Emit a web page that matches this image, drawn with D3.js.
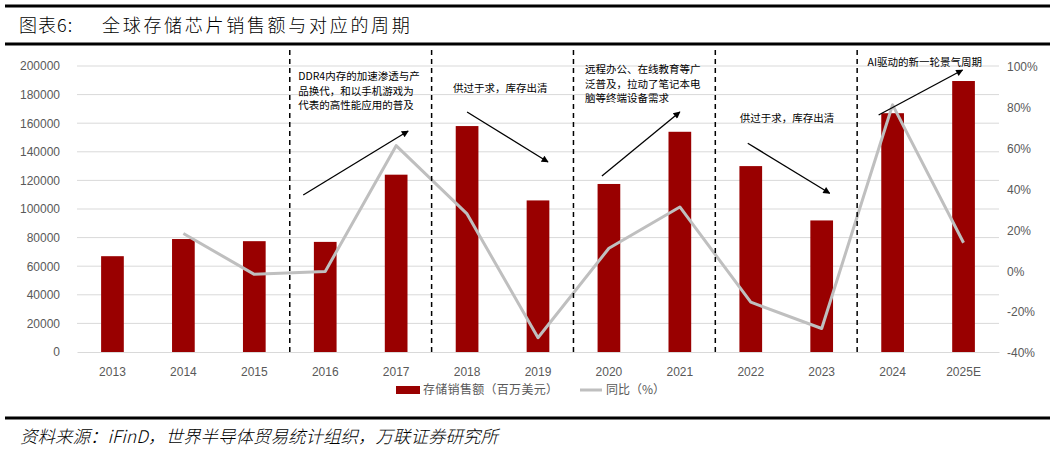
<!DOCTYPE html>
<html>
<head>
<meta charset="utf-8">
<script src="https://d3js.org/d3.v7.min.js"></script>
<style>
  body { margin: 0; background: #fff; }
  svg { display: block; }
  .tick text { font-family: "Liberation Sans", Arial, sans-serif; font-size: 12px; fill: #595959; }
  .note { font-family: "Noto Sans CJK SC", sans-serif; font-size: 10.5px; fill: #000; }
</style>
</head>
<body>
<svg id="chart" width="1055" height="450"></svg>
<script>
const years = ["2013", "2014", "2015", "2016", "2017", "2018", "2019", "2020", "2021", "2022", "2023", "2024", "2025E"];
const sales = [67000, 79000, 77500, 77000, 124000, 158000, 106000, 117500, 154000, 130000, 92000, 167000, 189500];
const yoy = [null, 18, -2, -0.6, 61, 27.6, -33, 10.8, 31, -15.6, -28.5, 81, 13.5];
const leftTicks = d3.range(0, 200001, 20000);
const rightTicks = [-40, -20, 0, 20, 40, 60, 80, 100];
// cycle boundaries sit between these pairs of years
const cycleBreaks = [["2015", "2016"], ["2017", "2018"], ["2019", "2020"], ["2021", "2022"], ["2023", "2024"]];
// annotations: text lines, anchor year for text, arrow from/to (year, sales value)
const notes = [
  { lines: ["DDR4内存的加速渗透与产", "品换代，和以手机游戏为", "代表的高性能应用的普及"], x: "2016", dx: -27, y: 192000,
    from: ["2016", 109800], to: ["2017", 154500], fdx: -22, tdx: 12 },
  { lines: ["供过于求，库存出清"], x: "2018", dx: -14, y: 184000,
    from: ["2018", 167800], to: ["2019", 132900], fdx: 0, tdx: 10 },
  { lines: ["远程办公、在线教育等广", "泛普及，拉动了笔记本电", "脑等终端设备需求"], x: "2020", dx: -24, y: 197000,
    from: ["2020", 123000], to: ["2021", 167800], fdx: -7, tdx: 0 },
  { lines: ["供过于求，库存出清"], x: "2022", dx: -11, y: 163000,
    from: ["2022", 146000], to: ["2023", 111000], fdx: -3, tdx: 8 },
  { lines: ["AI驱动的新一轮景气周期"], x: "2024", dx: -25, y: 202000,
    from: ["2024", 165700], to: ["2025E", 197200], fdx: -14, tdx: -1 }
];

const svg = d3.select("#chart");
const margin = { left: 77, right: 56, top: 66, bottom: 98 };
const W = 1055, H = 450;

const x = d3.scaleBand().domain(years).range([margin.left, W - margin.right]).paddingInner(0.68).paddingOuter(0.34);
const y = d3.scaleLinear().domain([0, 200000]).range([H - margin.bottom, margin.top]);
const y2 = d3.scaleLinear().domain([-40, 100]).range([H - margin.bottom, margin.top]);
const cx = d => x(d) + x.bandwidth() / 2;

// title block
svg.append("line").attr("x1", 5).attr("x2", 1050).attr("y1", 6).attr("y2", 6).attr("stroke", "#000").attr("stroke-width", 3);
svg.append("line").attr("x1", 5).attr("x2", 1050).attr("y1", 44).attr("y2", 44).attr("stroke", "#000").attr("stroke-width", 3);
svg.append("text").attr("x", 19).attr("y", 32).style("font-family", "'Noto Sans CJK SC', serif").style("font-size", "18px")
  .style("font-weight", 300).style("letter-spacing", "1px").text("图表6:");
svg.append("text").attr("x", 102).attr("y", 32).style("font-family", "'Noto Sans CJK SC', serif").style("font-size", "18px")
  .style("font-weight", 300).style("letter-spacing", "2.7px").text("全球存储芯片销售额与对应的周期");

// gridlines
svg.append("g").selectAll("line").data(leftTicks.slice(1)).join("line")
  .attr("x1", margin.left).attr("x2", W - margin.right)
  .attr("y1", d => y(d)).attr("y2", d => y(d))
  .attr("stroke", "#d9d9d9").attr("stroke-width", 1);

// left axis
const gl = svg.append("g").attr("transform", `translate(${margin.left},0)`)
  .call(d3.axisLeft(y).tickValues(leftTicks).tickSize(0).tickPadding(17).tickFormat(d3.format("d")));
gl.select(".domain").remove();

// right axis
const gr = svg.append("g").attr("transform", `translate(${W - margin.right},0)`)
  .call(d3.axisRight(y2).tickValues(rightTicks).tickSize(0).tickPadding(8).tickFormat(d => d + "%"));
gr.select(".domain").remove();
gr.selectAll(".tick text").attr("dy", "0.4em");

// bottom axis
const gb = svg.append("g").attr("transform", `translate(0,${H - margin.bottom})`)
  .call(d3.axisBottom(x).tickSize(0).tickPadding(15));
gb.select(".domain").attr("stroke", "#d9d9d9");

// bars
svg.append("g").selectAll("rect").data(years).join("rect")
  .attr("x", d => x(d)).attr("width", x.bandwidth())
  .attr("y", (d, i) => y(sales[i])).attr("height", (d, i) => y(0) - y(sales[i]))
  .attr("fill", "#990000");

// yoy line
const line = d3.line().defined(d => d[1] !== null).x(d => cx(d[0])).y(d => y2(d[1]));
svg.append("path").datum(years.map((d, i) => [d, yoy[i]]))
  .attr("d", line).attr("fill", "none").attr("stroke", "#bfbfbf").attr("stroke-width", 3).attr("stroke-linejoin", "round");

// cycle dividers
svg.append("g").selectAll("line").data(cycleBreaks).join("line")
  .attr("x1", d => (cx(d[0]) + cx(d[1])) / 2).attr("x2", d => (cx(d[0]) + cx(d[1])) / 2)
  .attr("y1", 50).attr("y2", y(0))
  .attr("stroke", "#000").attr("stroke-width", 1.5).attr("stroke-dasharray", "5,4");

// arrowhead
svg.append("defs").append("marker").attr("id", "arr").attr("viewBox", "0 0 10 10")
  .attr("refX", 9).attr("refY", 5).attr("markerWidth", 10).attr("markerHeight", 7).attr("orient", "auto")
  .attr("markerUnits", "userSpaceOnUse")
  .append("path").attr("d", "M0,0 L10,5 L0,10 z").attr("fill", "#000");

// annotations
notes.forEach(n => {
  const t = svg.append("text").attr("class", "note");
  n.lines.forEach((s, i) => {
    t.append("tspan").attr("x", cx(n.x) + n.dx).attr("y", y(n.y) + 3 + i * 14.5).text(s);
  });
  svg.append("line")
    .attr("x1", cx(n.from[0]) + n.fdx).attr("y1", y(n.from[1]))
    .attr("x2", cx(n.to[0]) + n.tdx).attr("y2", y(n.to[1]))
    .attr("stroke", "#000").attr("stroke-width", 1.3).attr("marker-end", "url(#arr)");
});

// legend
const lg = svg.append("g").attr("transform", "translate(396,390)");
lg.append("rect").attr("x", 0).attr("y", -4).attr("width", 24).attr("height", 8).attr("fill", "#990000");
lg.append("text").attr("x", 27).attr("y", 4).style("font-family", "'Noto Sans CJK SC', sans-serif").style("font-size", "12px").attr("fill", "#595959")
  .style("letter-spacing", "0.3px").text("存储销售额（百万美元）");
lg.append("line").attr("x1", 184).attr("x2", 206).attr("y1", 0).attr("y2", 0).attr("stroke", "#bfbfbf").attr("stroke-width", 3);
lg.append("text").attr("x", 210).attr("y", 4).style("font-family", "'Noto Sans CJK SC', sans-serif").style("font-size", "12px").attr("fill", "#595959")
  .text("同比（%）");

// source
svg.append("line").attr("x1", 5).attr("x2", 1050).attr("y1", 418).attr("y2", 418).attr("stroke", "#000").attr("stroke-width", 3);
svg.append("text").attr("x", 20).attr("y", 443).style("font-family", "'Noto Sans CJK SC', serif").style("font-size", "17.5px")
  .style("font-style", "italic").style("font-weight", 300).text("资料来源：iFinD，世界半导体贸易统计组织，万联证券研究所");
</script>
</body>
</html>
